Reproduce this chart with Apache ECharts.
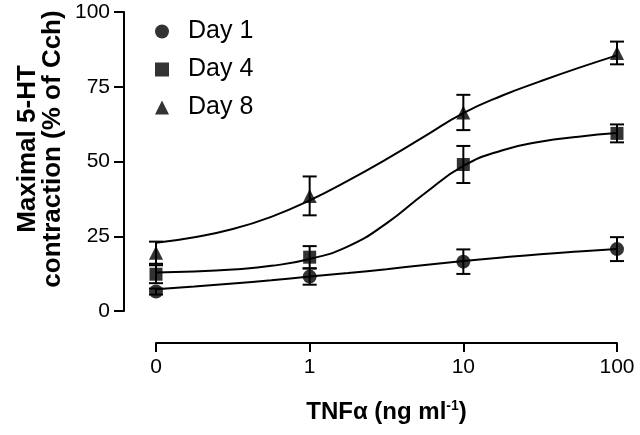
<!DOCTYPE html>
<html>
<head>
<meta charset="utf-8">
<script src="https://cdn.jsdelivr.net/npm/echarts@6/dist/echarts.min.js"></script>
<style>
html,body{margin:0;padding:0;background:#fff;}
#chart{width:640px;height:435px;}
</style>
</head>
<body>
<div id="chart"></div>
<script>
// ---- data ----
var doseLabels = ['0', '1', '10', '100'];
var dosePos = [0, 1, 2, 3];

var day1 = [6.5, 11.5, 16.5, 20.7];
var day1Err = [1.0, 2.7, 4.1, 4.0];
var day4 = [12.3, 18.0, 49.0, 59.4];
var day4Err = [3.0, 3.7, 6.2, 3.0];
var day8 = [19.5, 38.5, 66.4, 86.3];
var day8Err = [3.7, 6.5, 5.9, 3.8];

// fitted curves
var fitPos = [0, 0.25, 0.5, 0.75, 1, 1.25, 1.5, 1.75, 2, 2.25, 2.5, 2.75, 3];
var day1Fit = [7.3, 8.2, 9.2, 10.3, 11.5, 12.7, 14.0, 15.4, 16.7, 17.9, 19.0, 19.9, 20.7];
var day4Fit = [12.9, 13.2, 13.9, 15.1, 17.4, 21.6, 29.3, 39.4, 48.5, 53.7, 56.6, 58.3, 59.5];
var day8Fit = [22.8, 24.7, 27.4, 31.5, 37.0, 43.6, 50.8, 58.5, 66.2, 72.0, 76.8, 81.3, 85.5];

function pairs(xs, ys) { return xs.map(function (x, i) { return [x, ys[i]]; }); }
function errPairs(xs, ys, es) { return xs.map(function (x, i) { return [x, ys[i] - es[i], ys[i] + es[i]]; }); }

var FONT = '"Liberation Sans", Arial, Helvetica, sans-serif';

function errSeries(data) {
  return {
    type: 'custom',
    silent: true,
    z: 3,
    data: data,
    renderItem: function (params, api) {
      var x = api.value(0);
      var lo = api.coord([x, api.value(1)]);
      var hi = api.coord([x, api.value(2)]);
      var w = 7;
      var st = { stroke: '#000', lineWidth: 2 };
      return {
        type: 'group',
        children: [
          { type: 'line', shape: { x1: lo[0], y1: lo[1], x2: hi[0], y2: hi[1] }, style: st },
          { type: 'line', shape: { x1: lo[0] - w, y1: lo[1], x2: lo[0] + w, y2: lo[1] }, style: st },
          { type: 'line', shape: { x1: hi[0] - w, y1: hi[1], x2: hi[0] + w, y2: hi[1] }, style: st }
        ]
      };
    }
  };
}

function fitSeries(ys) {
  return {
    type: 'line', data: pairs(fitPos, ys), smooth: 0.5,
    showSymbol: false, symbol: 'none',
    lineStyle: { color: '#000', width: 2 }, silent: true, z: 2
  };
}

function pointSeries(name, ys, symbol, size) {
  return {
    name: name, type: 'scatter', data: pairs(dosePos, ys), symbol: symbol, symbolSize: size,
    itemStyle: { color: '#000' }, z: 4
  };
}

var chart = echarts.init(document.getElementById('chart'), null, { renderer: 'canvas' });
chart.setOption({
  backgroundColor: '#fff',
  animation: false,
  textStyle: { fontFamily: FONT },
  grid: { left: 156, right: 23, top: 12, bottom: 124 },
  legend: {
    orient: 'vertical', left: 150, top: 14, itemGap: 13,
    itemWidth: 14, itemHeight: 14,
    data: [
      { name: 'Day 1', icon: 'circle' },
      { name: 'Day 4', icon: 'rect' },
      { name: 'Day 8', icon: 'triangle' }
    ],
    textStyle: { fontSize: 25, color: '#000', fontFamily: FONT, padding: [0, 0, 0, 14] }
  },
  xAxis: {
    type: 'value', min: 0, max: 3, interval: 1, offset: 32,
    axisLine: { onZero: false, lineStyle: { color: '#000', width: 2 } },
    axisTick: { show: true, length: 9, lineStyle: { color: '#000', width: 2 } },
    splitLine: { show: false },
    axisLabel: {
      color: '#000', fontSize: 21, margin: 14, fontFamily: FONT,
      formatter: function (v) { var i = dosePos.indexOf(v); return i >= 0 ? doseLabels[i] : ''; }
    },
    name: 'TNFα (ng ml{sup|-1})',
    nameLocation: 'middle', nameGap: 56,
    nameTextStyle: {
      color: '#000', fontSize: 24, fontWeight: 'bold', fontFamily: FONT,
      rich: { sup: { fontSize: 14, fontWeight: 'bold', fontFamily: FONT, verticalAlign: 'top', padding: [0, 0, 12, 0] } }
    }
  },
  yAxis: {
    type: 'value', min: 0, max: 100, interval: 25, offset: 32,
    axisLine: { show: true, onZero: false, lineStyle: { color: '#000', width: 2 } },
    axisTick: { show: true, length: 10, lineStyle: { color: '#000', width: 2 } },
    splitLine: { show: false },
    axisLabel: { color: '#000', fontSize: 21, margin: 14, fontFamily: FONT }
  },
  graphic: [
    { type: 'text', x: 28, y: 149, rotation: Math.PI / 2,
      style: { text: 'Maximal 5-HT', fontSize: 26, fontWeight: 'bold', fontFamily: FONT, fill: '#000', align: 'center', verticalAlign: 'middle' } },
    { type: 'text', x: 53, y: 149, rotation: Math.PI / 2,
      style: { text: 'contraction (% of Cch)', fontSize: 26, fontWeight: 'bold', fontFamily: FONT, fill: '#000', align: 'center', verticalAlign: 'middle' } }
  ],
  series: [
    fitSeries(day1Fit),
    fitSeries(day4Fit),
    fitSeries(day8Fit),
    errSeries(errPairs(dosePos, day1, day1Err)),
    errSeries(errPairs(dosePos, day4, day4Err)),
    errSeries(errPairs(dosePos, day8, day8Err)),
    pointSeries('Day 1', day1, 'circle', 14),
    pointSeries('Day 4', day4, 'rect', 13),
    pointSeries('Day 8', day8, 'triangle', 14)
  ]
});
</script>
</body>
</html>
